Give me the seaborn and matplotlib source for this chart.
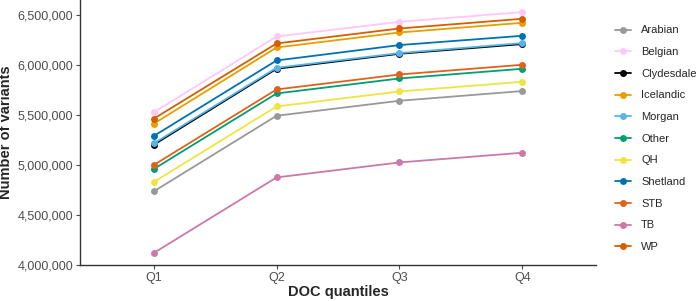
import numpy as np
import pandas as pd
import matplotlib
matplotlib.use("Agg")
import matplotlib.pyplot as plt
import matplotlib.ticker as mticker
import seaborn as sns

quantiles = ["Q1", "Q2", "Q3", "Q4"]
breeds = ["Arabian", "Belgian", "Clydesdale", "Icelandic", "Morgan", "Other",
          "QH", "Shetland", "STB", "TB", "WP"]

arabian = [4733000, 5490000, 5640000, 5737000]
belgian = [5523000, 6283000, 6430000, 6527000]
clydesdale = [5200000, 5960000, 6110000, 6207000]
icelandic = [5410000, 6173000, 6323000, 6420000]
morgan = [5213000, 5970000, 6117000, 6217000]
other = [4957000, 5713000, 5863000, 5960000]
qh = [4827000, 5583000, 5733000, 5830000]
shetland = [5287000, 6043000, 6197000, 6290000]
stb = [4997000, 5753000, 5903000, 6000000]
tb = [4117000, 4873000, 5023000, 5120000]
wp = [5460000, 6213000, 6363000, 6460000]

colors = ["#999999", "#FFC8F8", "#000000", "#E69F00", "#56B4E9", "#009E73",
          "#F0E442", "#0072B2", "#E0621A", "#CC79A7", "#D55E00"]

values = [arabian, belgian, clydesdale, icelandic, morgan, other,
          qh, shetland, stb, tb, wp]
rows = []
for b, vals in zip(breeds, values):
    for q, v in zip(quantiles, vals):
        rows.append({"quantile": q, "breed": b, "variants": v})
df = pd.DataFrame(rows)

sns.set_style("ticks")
plt.rcParams["font.family"] = ["Liberation Sans", "DejaVu Sans"]

fig = plt.figure(figsize=(6.99, 3.01), dpi=100)
ax = fig.add_axes([80 / 699, 36 / 301, (596 - 80) / 699, 265 / 301])

sns.lineplot(data=df, x="quantile", y="variants", hue="breed", hue_order=breeds,
             palette=dict(zip(breeds, colors)), marker="o", markersize=5,
             markeredgewidth=0, linewidth=1.3, ax=ax, sort=False)

ax.set_xlim(-0.6, 3.6)
ax.set_ylim(3997000, 6648000)
ax.set_yticks([4000000, 4500000, 5000000, 5500000, 6000000, 6500000])
ax.yaxis.set_major_formatter(mticker.FuncFormatter(lambda v, p: f"{int(v):,}"))
ax.tick_params(axis="both", labelsize=9, colors="#4D4D4D", length=3, width=0.8, pad=2)
for s in ["left", "bottom"]:
    ax.spines[s].set_color("#333333")
    ax.spines[s].set_linewidth(1.0)
sns.despine(ax=ax)

ax.set_xlabel("DOC quantiles", fontsize=10.5, fontweight="bold", labelpad=1)
ax.set_ylabel("Number of variants", fontsize=10.5, fontweight="bold", labelpad=3)

handles, labels = ax.get_legend_handles_labels()
ax.legend(handles, labels, loc="upper left", bbox_to_anchor=(611 / 699, 1 - 21 / 301),
          bbox_transform=fig.transFigure, frameon=False, fontsize=8,
          handlelength=1.4, handletextpad=0.9, labelspacing=1.05, borderaxespad=0)

fig.savefig("out.png", dpi=100)
